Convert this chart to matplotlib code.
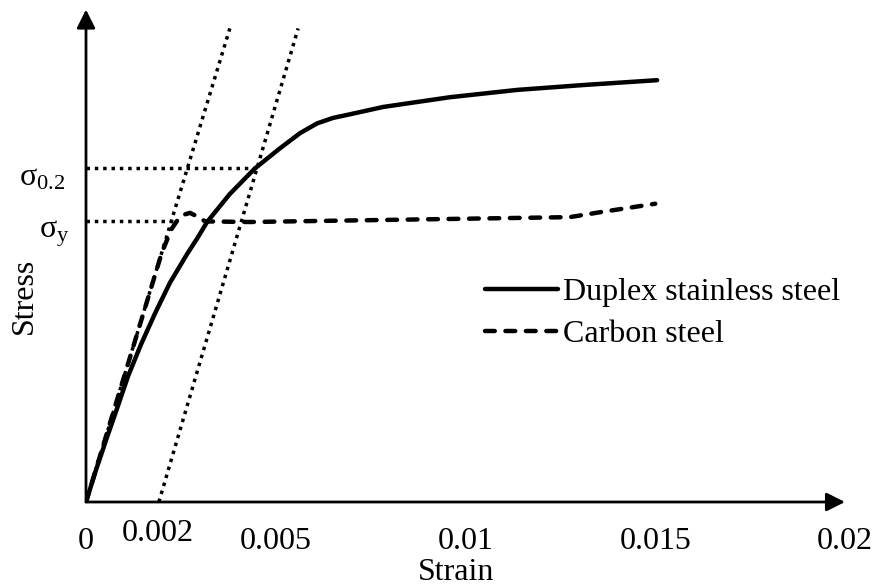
import matplotlib
matplotlib.use('Agg')
import matplotlib.pyplot as plt

plt.rcParams['font.family'] = ['Liberation Serif', 'DejaVu Serif']
plt.rcParams['mathtext.fontset'] = 'custom'
plt.rcParams['mathtext.rm'] = 'Liberation Serif'
plt.rcParams['mathtext.it'] = 'Liberation Serif'
plt.rcParams['mathtext.bf'] = 'Liberation Serif:bold'

# stress-strain curves (strain, stress in MPa)
duplex_strain = [0, 0.00026, 0.00053, 0.00082, 0.00111, 0.00145, 0.00182, 0.00221,
                 0.00266, 0.00295, 0.00319, 0.00379, 0.00445, 0.00511, 0.00564,
                 0.00609, 0.00651, 0.00696, 0.00783, 0.00959, 0.01136, 0.01310, 0.01505]
duplex_stress = [0, 52, 102, 154, 207, 259, 310, 360,
                 407, 435, 460, 506, 548, 581, 606,
                 622, 631, 637, 649, 665, 677, 685, 693]

carbon_strain = [0, 0.00100, 0.00200, 0.00225, 0.00240, 0.00258, 0.00274, 0.00290,
                 0.00314, 0.00432, 0.00959, 0.01275, 0.01354, 0.01500]
carbon_stress = [0, 205, 410, 448, 462, 472, 475, 470,
                 461, 460, 465, 468, 476, 490]

# 0.2 % offset construction lines
elastic_strain = [0, 0.00379]
offset_strain = [0.00192, 0.00559]
construct_stress = [0, 778]

sigma_02 = 548
sigma_y = 461
sigma_02_strain = 0.00450
sigma_y_strain = 0.00240

xtick_values = [0, 0.005, 0.01, 0.015, 0.02]
xtick_labels = ['0', '0.005', '0.01', '0.015', '0.02']

fig = plt.figure(figsize=(8.79, 5.86), dpi=100)
ax = fig.add_axes([86 / 879, 84 / 586, 759 / 879, 490 / 586])
ax.set_xlim(0, 0.02)
ax.set_ylim(0, 805)

dot = dict(color='black', lw=2.5, linestyle=(0, (1, 1.4)))
ax.plot(elastic_strain, construct_stress, **dot)
ax.plot(offset_strain, construct_stress, **dot)
ax.plot([0, sigma_02_strain], [sigma_02, sigma_02], **dot)
ax.plot([0, sigma_y_strain], [sigma_y, sigma_y], **dot)

ax.plot(duplex_strain, duplex_stress, color='black', lw=3.2,
        solid_capstyle='round', solid_joinstyle='round',
        label='Duplex stainless steel')
ax.plot(carbon_strain, carbon_stress, color='black', lw=3.2,
        linestyle=(0, (2.2, 2.4)), dash_capstyle='round',
        dash_joinstyle='round', label='Carbon steel')

# axes drawn as arrows
for s in ax.spines.values():
    s.set_visible(False)
arrow = dict(arrowstyle='-|>', lw=2, color='black', mutation_scale=28,
             shrinkA=0, shrinkB=0)
ax.annotate('', xy=(1.0, 0), xytext=(0, 0), xycoords='axes fraction',
            arrowprops=arrow, annotation_clip=False)
ax.annotate('', xy=(0, 1.005), xytext=(0, 0), xycoords='axes fraction',
            arrowprops=arrow, annotation_clip=False)

ax.set_xticks(xtick_values)
ax.set_xticklabels(xtick_labels, fontsize=23)
ax.set_yticks([])
ax.tick_params(axis='x', length=0, pad=18)

ax.text(0.00189, -0.035, '0.002', transform=ax.get_xaxis_transform(),
        ha='center', va='top', fontsize=23)
ax.text(0.00975, -0.115, 'Strain', transform=ax.get_xaxis_transform(),
        ha='center', va='top', fontsize=23)
ax.text(-0.081, 0.42, 'Stress', transform=ax.transAxes, rotation=90,
        ha='center', va='center', fontsize=23)

ax.text(-0.088, (502 - 178) / 490, r'$\sigma_{0.2}$', transform=ax.transAxes,
        ha='left', va='center', fontsize=23)
ax.text(-0.062, (502 - 234) / 490, r'$\sigma_{y}$', transform=ax.transAxes,
        ha='left', va='center', fontsize=23)

ax.legend(loc='upper left', bbox_to_anchor=(485 / 879, 1 - 278 / 586),
          bbox_transform=fig.transFigure, frameon=False, fontsize=23,
          handlelength=2.3, handletextpad=0.15, labelspacing=0.38,
          borderpad=0, borderaxespad=0)

fig.savefig('out.png', dpi=100)
